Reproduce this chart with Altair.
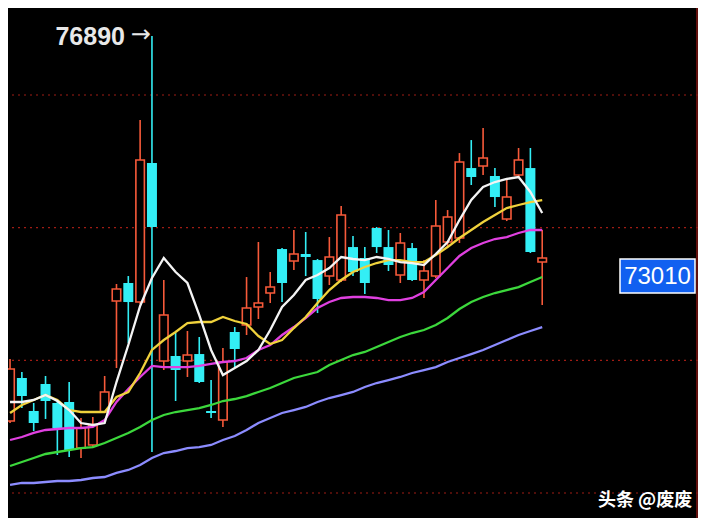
import altair as alt
import pandas as pd

# ---- candle data (price units) ----
opens = [71085, 71734, 71236, 71643, 71357, 71372, 70678, 70724, 71221, 72894,
         73166, 72879, 74975, 71990, 72065, 71990, 72095, 71236, 71100, 72427,
         72533, 72804, 73015, 73678, 73497, 73603, 73512, 73271, 73211, 73708,
         73543, 73995, 73708, 73286, 73693, 73211, 73271, 73784, 73844, 74899,
         74930, 74779, 74131, 74794, 74899, 73482]
highs = [72020, 71824, 71357, 71764, 71402, 71673, 71131, 71146, 71764, 73151,
         73271, 75623, 76890, 73211, 72412, 72442, 72352, 71703, 72186, 72502,
         73256, 73784, 73332, 73693, 73965, 73935, 73528, 73859, 74327, 73874,
         73708, 74010, 73965, 73920, 73769, 73512, 74417, 74266, 75125, 75321,
         75502, 74899, 74718, 75201, 75201, 73965]
lows = [71055, 71281, 70935, 71116, 70573, 70543, 70528, 70678, 71206, 71884,
        72261, 72849, 70618, 71854, 71387, 71749, 71658, 71131, 70995, 71899,
        72382, 72623, 72864, 72879, 73362, 73271, 72713, 73136, 73181, 73271,
        73000, 73618, 73347, 73166, 73196, 72940, 73241, 73708, 73769, 74643,
        74794, 74312, 74100, 74764, 73618, 72834]
closes = [71869, 71462, 71055, 71387, 70980, 70648, 70980, 71025, 71523, 73075,
          72879, 75020, 74010, 72683, 71854, 72080, 71673, 71206, 71975, 72171,
          72789, 72864, 73105, 73166, 73603, 73558, 72925, 73558, 74191, 73332,
          73166, 73708, 73437, 73769, 73211, 73347, 74025, 74161, 74990, 74764,
          75050, 74462, 74462, 75020, 73633, 73543]

# ---- moving averages ----
ma5 = [71372, 71372, 71402, 71477, 71387, 71251, 71055, 71025, 71055, 71673,
       72231, 72819, 73241, 73543, 73332, 73166, 72683, 72156, 71779, 71884,
       71990, 72156, 72457, 72804, 72985, 73211, 73286, 73392, 73558, 73528,
       73512, 73558, 73528, 73482, 73467, 73437, 73603, 73784, 74115, 74417,
       74613, 74688, 74734, 74764, 74538, 74221]
ma10 = [71206, 71327, 71402, 71477, 71402, 71251, 71221, 71221, 71221, 71447,
        71523, 71809, 72156, 72306, 72427, 72563, 72578, 72578, 72653, 72593,
        72548, 72367, 72246, 72306, 72487, 72653, 72864, 73060, 73211, 73332,
        73407, 73467, 73512, 73512, 73482, 73482, 73588, 73708, 73844, 73965,
        74085, 74191, 74296, 74342, 74387, 74417]
ma20 = [70799, 70844, 70905, 70950, 70965, 70980, 70980, 70995, 71100, 71372,
        71568, 71749, 71915, 71899, 71899, 71899, 71915, 71945, 71975, 71990,
        72035, 72156, 72231, 72382, 72502, 72638, 72789, 72879, 72940, 72955,
        72955, 72940, 72909, 72909, 72940, 73030, 73211, 73392, 73573, 73693,
        73769, 73829, 73859, 73920, 73965, 73965]
ma60 = [70407, 70467, 70528, 70588, 70618, 70648, 70678, 70693, 70754, 70829,
        70905, 70995, 71100, 71176, 71221, 71251, 71281, 71327, 71387, 71417,
        71462, 71523, 71583, 71658, 71734, 71779, 71824, 71930, 72005, 72080,
        72126, 72201, 72276, 72352, 72412, 72457, 72533, 72638, 72774, 72879,
        72955, 73015, 73060, 73105, 73181, 73256]
ma120 = [70121, 70151, 70151, 70166, 70181, 70181, 70196, 70226, 70241, 70302,
         70347, 70422, 70528, 70603, 70633, 70678, 70693, 70724, 70799, 70859,
         70950, 71055, 71131, 71206, 71251, 71297, 71372, 71432, 71477, 71523,
         71598, 71658, 71703, 71749, 71809, 71854, 71899, 71975, 72035, 72095,
         72156, 72231, 72306, 72382, 72442, 72502]

grid_levels = [76000, 74000, 72000, 70000]
peak_label = "76890"
peak_index = 12
peak_value = 76890
price_label = "73010"
watermark = "头条 @废废"

RED = "#f75a3a"
CYAN = "#33eef5"

n = len(opens)
df = pd.DataFrame({"i": list(range(n)), "open": opens, "high": highs,
                   "low": lows, "close": closes})

xs = alt.Scale(domain=[0.25, 57.75], nice=False, zero=False)
ys = alt.Scale(domain=[69623, 77312], nice=False, zero=False)
X = alt.X("i:Q", scale=xs, axis=None)

grid = alt.Chart(pd.DataFrame({"p": grid_levels})).mark_rule(
    color="#a01c14", strokeDash=[2, 4], strokeWidth=1.2
).encode(y=alt.Y("p:Q", scale=ys, axis=None))

base = alt.Chart(df)
wicks = base.mark_rule(strokeWidth=1.6).encode(
    x=X,
    y=alt.Y("low:Q", scale=ys, axis=None),
    y2="high:Q",
    color=alt.condition("datum.close >= datum.open", alt.value(RED), alt.value(CYAN)),
)
up_body = base.transform_filter("datum.close >= datum.open").mark_bar(
    size=8.5, fill="black", stroke=RED, strokeWidth=1.6
).encode(x=X, y=alt.Y("open:Q", scale=ys, axis=None), y2="close:Q")
down_body = base.transform_filter("datum.close < datum.open").mark_bar(
    size=10, color=CYAN
).encode(x=X, y=alt.Y("open:Q", scale=ys, axis=None), y2="close:Q")

ma_specs = [(ma120, "#8c8cff"), (ma60, "#3cd83c"), (ma20, "#e040e0"),
            (ma10, "#f0d23c"), (ma5, "#f4f4f4")]
ma_layers = []
for vals, col in ma_specs:
    mdf = pd.DataFrame({"i": list(range(n)), "v": vals})
    ma_layers.append(
        alt.Chart(mdf).mark_line(color=col, strokeWidth=2.3, clip=True).encode(
            x=X, y=alt.Y("v:Q", scale=ys, axis=None)
        )
    )

peak_df = pd.DataFrame({"i": [peak_index], "p": [peak_value], "t": [peak_label], "a": ["→"]})
peak_text = alt.Chart(peak_df).mark_text(
    align="right", baseline="middle", dx=-27, dy=1, fontSize=25, fontWeight="bold",
    font="Liberation Sans", color="#e8e8e8"
).encode(x=X, y=alt.Y("p:Q", scale=ys, axis=None), text="t:N")
peak_arrow = alt.Chart(peak_df).mark_text(
    align="right", baseline="middle", dx=-1, dy=-1, fontSize=24,
    font="DejaVu Sans", color="#e8e8e8"
).encode(x=X, y=alt.Y("p:Q", scale=ys, axis=None), text="a:N")

one = pd.DataFrame({"t": [price_label]})
label_box = alt.Chart(one).mark_rect(
    fill="#1160f0", stroke="white", strokeWidth=1.5
).encode(x=alt.value(612), x2=alt.value(687), y=alt.value(251), y2=alt.value(285))
label_text = alt.Chart(one).mark_text(
    align="center", baseline="middle", fontSize=24, font="Liberation Sans",
    color="white"
).encode(x=alt.value(649.5), y=alt.value(269), text="t:N")

sep = alt.Chart(one).mark_rule(color="#801410", strokeWidth=1.5).encode(
    x=alt.value(689), y=alt.value(0), y2=alt.value(510)
)

wm = alt.Chart(pd.DataFrame({"t": [watermark]})).mark_text(
    align="left", baseline="middle", fontSize=18, fontWeight="bold",
    font="Noto Sans CJK SC", color="white"
).encode(x=alt.value(590), y=alt.value(493), text="t:N")

chart = alt.layer(
    grid, wicks, up_body, down_body, *ma_layers,
    peak_text, peak_arrow, sep, label_box, label_text, wm
).properties(
    width=690, height=510, padding=0,
    autosize=alt.AutoSizeParams(type="none"),
    background="black",
).configure_view(stroke=None, fill="black")

chart.save("out.html", embed_options={"renderer": "svg", "actions": False})
